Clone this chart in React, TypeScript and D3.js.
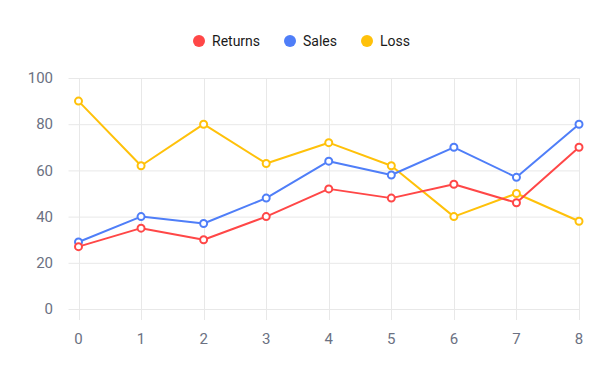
import React, { useEffect, useRef } from "react";
import * as d3 from "d3";

// chart data
const xValues = [0, 1, 2, 3, 4, 5, 6, 7, 8];
const returns = [27, 35, 30, 40, 52, 48, 54, 46, 70];
const sales = [29, 40, 37, 48, 64, 58, 70, 57, 80];
const loss = [90, 62, 80, 63, 72, 62, 40, 50, 38];
const yTicks = [0, 20, 40, 60, 80, 100];
const seriesNames = ["Returns", "Sales", "Loss"];
const seriesColors = ["#ff4747", "#4f7ef8", "#ffc10a"];

export default function App() {
  const ref = useRef<SVGSVGElement | null>(null);

  useEffect(() => {
    const width = 608,
      height = 388;
    const plot = { left: 78.5, right: 579, top: 78, bottom: 309 };
    const font = "Roboto, 'Noto Sans', sans-serif";

    const svg = d3.select(ref.current);
    svg.selectAll("*").remove();
    svg.attr("width", width).attr("height", height);

    const x = d3.scaleLinear().domain([0, 8]).range([plot.left, plot.right]);
    const y = d3.scaleLinear().domain([0, 100]).range([plot.bottom, plot.top]);

    // grid: horizontal lines with a small tick on the left
    const grid = svg.append("g");
    grid
      .selectAll("line.h")
      .data(yTicks)
      .enter()
      .append("line")
      .attr("x1", plot.left - 10)
      .attr("x2", plot.right)
      .attr("y1", d => y(d) + 0.5)
      .attr("y2", d => y(d) + 0.5)
      .attr("stroke", "#e8e8e8")
      .attr("stroke-width", 1);

    // vertical lines extend a bit below the baseline
    grid
      .selectAll("line.v")
      .data(xValues)
      .enter()
      .append("line")
      .attr("x1", d => Math.round(x(d)) + 0.5)
      .attr("x2", d => Math.round(x(d)) + 0.5)
      .attr("y1", plot.top)
      .attr("y2", plot.bottom + 11)
      .attr("stroke", "#e8e8e8")
      .attr("stroke-width", 1);

    // y labels
    svg
      .append("g")
      .selectAll("text")
      .data(yTicks)
      .enter()
      .append("text")
      .attr("x", 53)
      .attr("y", d => y(d))
      .attr("dy", "0.35em")
      .attr("text-anchor", "end")
      .style("font-family", font)
      .style("font-size", "15px")
      .style("fill", "#6b7182")
      .text(d => d);

    // x labels
    svg
      .append("g")
      .selectAll("text")
      .data(xValues)
      .enter()
      .append("text")
      .attr("x", d => x(d))
      .attr("y", 339)
      .attr("dy", "0.35em")
      .attr("text-anchor", "middle")
      .style("font-family", font)
      .style("font-size", "15px")
      .style("fill", "#6b7182")
      .text(d => d);

    const allSeries = [returns, sales, loss];
    const line = d3
      .line<number>()
      .x((d, i) => x(xValues[i]))
      .y(d => y(d));

    // draw Loss first so red ends up on top like the reference
    [2, 1, 0].forEach(k => {
      const g = svg.append("g");
      g.append("path")
        .attr("d", line(allSeries[k]))
        .attr("fill", "none")
        .attr("stroke", seriesColors[k])
        .attr("stroke-width", 2)
        .attr("stroke-linejoin", "round");
      g.selectAll("circle")
        .data(allSeries[k])
        .enter()
        .append("circle")
        .attr("cx", (d, i) => x(xValues[i]))
        .attr("cy", d => y(d))
        .attr("r", 3.5)
        .attr("fill", "#fff")
        .attr("stroke", seriesColors[k])
        .attr("stroke-width", 2);
    });

    // legend
    const legendX = [199, 290, 367];
    const legend = svg.append("g");
    seriesNames.forEach((name, i) => {
      legend
        .append("circle")
        .attr("cx", legendX[i])
        .attr("cy", 41)
        .attr("r", 6)
        .attr("fill", seriesColors[i]);
      legend
        .append("text")
        .attr("x", legendX[i] + 13)
        .attr("y", 41)
        .attr("dy", "0.35em")
        .style("font-family", font)
        .style("font-size", "14px")
        .style("fill", "#1a1a1a")
        .text(name);
    });
  }, []);

  return (
    <svg
      ref={ref}
      style={{ position: "absolute", left: 0, top: 0, background: "#fff" }}
    />
  );
}
